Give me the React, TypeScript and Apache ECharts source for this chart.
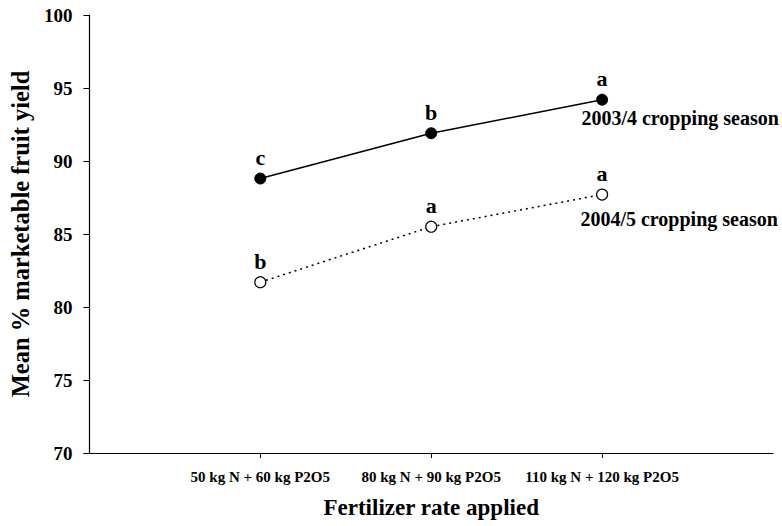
import React, { useEffect, useRef } from "react";
import * as echarts from "echarts";

const categories = ["", "50 kg N + 60 kg P2O5", "80 kg N + 90 kg P2O5", "110 kg N + 120 kg P2O5", ""];
const season1Name = "2003/4 cropping season";
const season2Name = "2004/5 cropping season";
const season1Values = [null, 88.8, 91.9, 94.2, null];
const season2Values = [null, 81.7, 85.5, 87.7, null];
const season1Letters = ["", "c", "b", "a", ""];
const season2Letters = ["", "b", "a", "a", ""];
const yTicks = { min: 70, max: 100, interval: 5 };

const FONT = '"Liberation Serif", "Times New Roman", Times, serif';

export default function App() {
  const ref = useRef<HTMLDivElement>(null);
  useEffect(() => {
    document.body.style.margin = "0";
    if (!ref.current) return;
    const chart = echarts.init(ref.current, null, { renderer: "svg" });
    const lastIdx = 3;
    const letterLabel = {
      show: true,
      position: "top",
      distance: 4,
      fontFamily: FONT,
      fontWeight: "bold",
      fontSize: 22,
      color: "#000",
    };
    const mkData = (vals: (number | null)[], letters: string[]) =>
      vals.map((v, i) => ({ value: v, label: { ...letterLabel, formatter: letters[i] } }));
    chart.setOption({
      animation: false,
      backgroundColor: "#fff",
      textStyle: { fontFamily: FONT, color: "#000" },
      grid: { left: 85, top: 15, right: 9, bottom: 73, containLabel: false },
      xAxis: {
        type: "category",
        data: categories,
        boundaryGap: false,
        name: "Fertilizer rate applied",
        nameLocation: "middle",
        nameGap: 43,
        nameTextStyle: { fontFamily: FONT, fontWeight: "bold", fontSize: 23, color: "#000" },
        axisLine: { lineStyle: { color: "#000", width: 1.2 } },
        axisTick: {
          show: true,
          length: 5,
          lineStyle: { color: "#000" },
          interval: (idx: number) => idx >= 1 && idx <= 3,
        },
        axisLabel: {
          interval: 0,
          margin: 16,
          fontFamily: FONT,
          fontWeight: "bold",
          fontSize: 15,
          color: "#000",
        },
        splitLine: { show: false },
      },
      yAxis: {
        type: "value",
        min: yTicks.min,
        max: yTicks.max,
        interval: yTicks.interval,
        name: "Mean % marketable fruit yield",
        nameLocation: "middle",
        nameGap: 51,
        nameTextStyle: { fontFamily: FONT, fontWeight: "bold", fontSize: 24.5, color: "#000" },
        axisLine: { show: true, lineStyle: { color: "#000", width: 1.2 } },
        axisTick: { show: true, length: 6, lineStyle: { color: "#000" } },
        axisLabel: { margin: 17, fontFamily: FONT, fontWeight: "bold", fontSize: 19, color: "#000" },
        splitLine: { show: false },
      },
      series: [
        {
          name: season1Name,
          type: "line",
          data: mkData(season1Values, season1Letters),
          symbol: "circle",
          symbolSize: 11,
          itemStyle: { color: "#000", borderColor: "#000", borderWidth: 1 },
          lineStyle: { color: "#000", width: 1.5, type: "solid" },
          label: letterLabel,
          z: 3,
        },
        {
          name: season2Name,
          type: "line",
          data: mkData(season2Values, season2Letters),
          symbol: "circle",
          symbolSize: 11,
          itemStyle: { color: "#fff", borderColor: "#000", borderWidth: 1.2 },
          lineStyle: { color: "#000", width: 1.5, type: [2, 4] },
          label: letterLabel,
          z: 3,
        },
        {
          name: season1Name + " label",
          type: "scatter",
          symbolSize: 0,
          silent: true,
          itemStyle: { opacity: 1 },
          data: season1Values.map((v, i) => (i === lastIdx ? v : null)),
          label: {
            show: true,
            position: "bottom",
            distance: 8,
            offset: [78, 0],
            formatter: season1Name,
            fontFamily: FONT,
            fontWeight: "bold",
            fontSize: 20,
            color: "#000",
            opacity: 1,
          },
        },
        {
          name: season2Name + " label",
          type: "scatter",
          symbolSize: 0,
          silent: true,
          itemStyle: { opacity: 1 },
          data: season2Values.map((v, i) => (i === lastIdx ? v : null)),
          label: {
            show: true,
            position: "bottom",
            distance: 14,
            offset: [77, 0],
            formatter: season2Name,
            fontFamily: FONT,
            fontWeight: "bold",
            fontSize: 20,
            color: "#000",
            opacity: 1,
          },
        },
      ],
    });
    return () => chart.dispose();
  }, []);
  return <div ref={ref} style={{ width: 782, height: 526 }} />;
}
